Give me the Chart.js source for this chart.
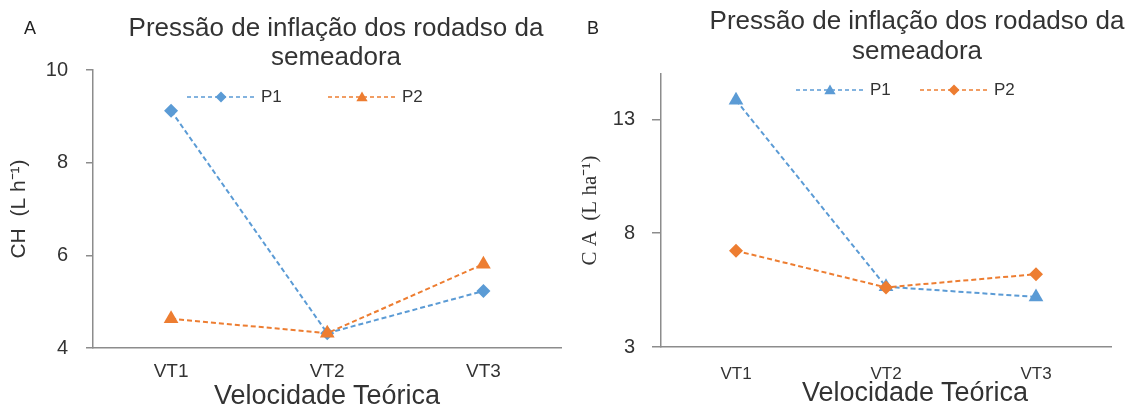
<!DOCTYPE html>
<html lang="pt">
<head>
  <meta charset="UTF-8" />
  <title>Pressão de inflação dos rodadso da semeadora</title>
  <style>
    body {
      margin: 0;
      background: #fff;
      font-family: 'Liberation Sans', Arial, sans-serif;
      color: #333;
    }
    .wrap {
      position: relative;
      width: 1137px;
      height: 408px;
      overflow: hidden;
    }
    .panel {
      position: absolute;
      top: 0;
    }
    .txt {
      position: absolute;
      transform: translate(-50%, -50%);
      white-space: nowrap;
      text-align: center;
    }
    .letter { font-size: 18px; color: #222; }
    .title  { font-size: 26px; line-height: 29px; color: #333; }
    .xtitle { font-size: 27px; color: #333; }
  </style>
</head>
<body>
  <div class="wrap">
    <div class="panel" style="left:0"><canvas id="chartA" width="570" height="408"></canvas></div>
    <div class="panel" style="left:570px"><canvas id="chartB" width="567" height="408"></canvas></div>

    <div class="txt letter" style="left:30px; top:28px">A</div>
    <div class="txt letter" style="left:593px; top:28px">B</div>
    <div class="txt title" style="left:336px; top:42px">Pressão de inflação dos rodadso da<br>semeadora</div>
    <div class="txt title" style="left:917px; top:35px; line-height:30px">Pressão de inflação dos rodadso da<br>semeadora</div>
    <div class="txt xtitle" style="left:327px; top:395px">Velocidade Teórica</div>
    <div class="txt xtitle" style="left:915px; top:392px">Velocidade Teórica</div>
  </div>

  <script src="https://cdn.jsdelivr.net/npm/chart.js"></script>
  <script>
    // data
    const categories = ['VT1', 'VT2', 'VT3'];

    const chP1 = [9.12, 4.32, 5.23];   // CH (L h-1), panel A
    const chP2 = [4.63, 4.32, 5.81];
    const caP1 = [13.85, 5.65, 5.2];   // CA (L ha-1), panel B
    const caP2 = [7.23, 5.62, 6.2];

    const ticksA = [4, 6, 8, 10];
    const ticksB = [3, 8, 13];

    const BLUE = '#5B9BD5';
    const ORANGE = '#ED7D31';
    const AXIS = '#8c8c8c';
    const FONT = "'Liberation Sans', Arial, sans-serif";

    // dashed line + marker legend, like the spreadsheet one
    const lineLegend = {
      id: 'lineLegend',
      afterDraw(chart, args, opts) {
        const ctx = chart.ctx;
        ctx.save();
        chart.data.datasets.forEach((ds, i) => {
          const x0 = opts.x + i * opts.step;
          const y = opts.y;
          ctx.strokeStyle = ds.borderColor;
          ctx.lineWidth = 1.5;
          ctx.setLineDash([4, 3]);
          ctx.beginPath();
          ctx.moveTo(x0, y);
          ctx.lineTo(x0 + opts.lineW, y);
          ctx.stroke();
          ctx.setLineDash([]);
          ctx.fillStyle = ds.backgroundColor;
          Chart.helpers.drawPoint(ctx, {
            pointStyle: ds.pointStyle,
            radius: ds.pointStyle === 'triangle' ? 6.5 : 5.5,
            rotation: 0,
            borderWidth: 0
          }, x0 + opts.lineW / 2, y + (ds.pointStyle === 'triangle' ? 1 : 0));
          ctx.fillStyle = '#333';
          ctx.font = '17px ' + FONT;
          ctx.textBaseline = 'middle';
          ctx.fillText(ds.label, x0 + opts.lineW + 6, y);
        });
        ctx.restore();
      }
    };

    function makeDataset(label, data, color, style, order) {
      return {
        label: label,
        data: data,
        borderColor: color,
        backgroundColor: color,
        borderWidth: 2,
        borderDash: [5, 3],
        pointStyle: style,
        pointRadius: style === 'triangle' ? 8.5 : 7,
        pointHoverRadius: style === 'triangle' ? 8.5 : 7,
        pointBorderWidth: 0,
        tension: 0,
        order: order
      };
    }

    function makeChart(id, cfg) {
      return new Chart(document.getElementById(id), {
        type: 'line',
        data: {
          labels: categories,
          datasets: [
            makeDataset('P1', cfg.p1, BLUE, cfg.style1, 1),
            makeDataset('P2', cfg.p2, ORANGE, cfg.style2, 0)
          ]
        },
        options: {
          responsive: false,
          animation: false,
          devicePixelRatio: 1,
          layout: { padding: { top: cfg.top, right: cfg.right, bottom: 0, left: 0 } },
          plugins: {
            legend: { display: false },
            tooltip: { enabled: false },
            lineLegend: cfg.legend
          },
          scales: {
            x: {
              offset: true,
              grid: { display: false, drawTicks: false },
              border: { color: AXIS, width: 1.5 },
              ticks: {
                color: '#333',
                font: { family: FONT, size: cfg.xFont },
                padding: cfg.xPad,
                maxRotation: 0
              },
              afterFit(scale) { scale.height = cfg.xHeight; }
            },
            y: {
              min: cfg.min,
              max: cfg.max,
              grid: {
                drawOnChartArea: false,
                drawTicks: true,
                tickLength: cfg.tickLen,
                color: AXIS,
                lineWidth: 1.5
              },
              border: { color: AXIS, width: 1.5 },
              ticks: {
                color: '#333',
                font: { family: FONT, size: 20 },
                padding: cfg.yPad
              },
              afterBuildTicks(scale) {
                scale.ticks = cfg.ticks.map(v => ({ value: v }));
              },
              title: {
                display: true,
                text: cfg.yTitle,
                color: '#333',
                font: cfg.yTitleFont,
                padding: { top: cfg.yTitlePad, bottom: 0 }
              },
              afterFit(scale) { scale.width = cfg.yWidth; }
            }
          }
        },
        plugins: [lineLegend]
      });
    }

    makeChart('chartA', {
      p1: chP1, p2: chP2,
      style1: 'rectRot', style2: 'triangle',
      min: 4, max: 10, ticks: ticksA,
      top: 70, right: 7, xHeight: 60, yWidth: 93,
      xFont: 19, xPad: 12, yPad: 18, tickLen: 7,
      yTitle: 'CH  (L h⁻¹)',
      yTitleFont: { family: FONT, size: 21 },
      yTitlePad: 7,
      legend: { x: 187, y: 97, step: 141, lineW: 68 }
    });

    makeChart('chartB', {
      p1: caP1, p2: caP2,
      style1: 'triangle', style2: 'rectRot',
      min: 3, max: 15, ticks: ticksB,
      top: 74, right: 26, xHeight: 61, yWidth: 91,
      xFont: 17, xPad: 17, yPad: 17, tickLen: 9,
      yTitle: 'C A  (L ha⁻¹)',
      yTitleFont: { family: "'Liberation Serif', 'Times New Roman', serif", size: 21 },
      yTitlePad: 8,
      legend: { x: 226, y: 90, step: 124, lineW: 68 }
    });
  </script>
</body>
</html>
